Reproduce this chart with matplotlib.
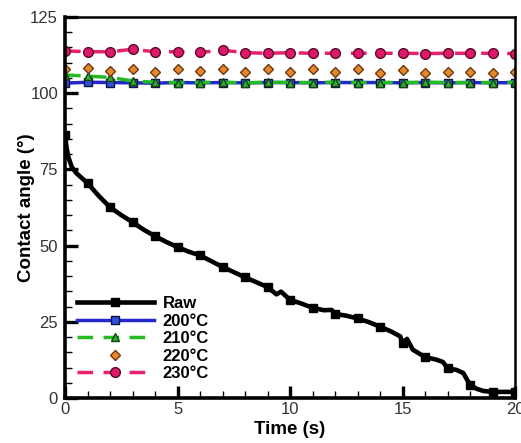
import matplotlib
matplotlib.use("Agg")
import matplotlib.pyplot as plt
import numpy as np
from matplotlib.ticker import MultipleLocator

plt.rcParams['font.family'] = ['Liberation Sans', 'DejaVu Sans']

# Raw sample: contact angle falls over time (markers every whole second)
raw_t = [0, 0.07, 0.15, 0.3, 0.5, 1, 1.5, 2, 2.5, 3, 3.5, 4, 4.5, 5, 5.5, 6,
         6.5, 7, 7.5, 8, 8.5, 9, 9.4, 9.6, 10, 10.5, 11, 11.5, 11.85, 12, 12.5,
         13, 13.5, 14, 14.5, 14.9, 15, 15.2, 15.45, 16, 16.5, 16.8, 17, 17.4,
         17.7, 18, 18.3, 18.6, 19, 19.5, 20]
raw_v = [86.3, 82, 79, 75.8, 73.8, 70.5, 66.3, 62.6, 60.0, 57.7, 55.2, 53.1,
         51.2, 49.5, 48.0, 46.8, 44.9, 43.0, 41.3, 39.6, 38.0, 36.4, 34.0,
         34.9, 32.2, 31.0, 29.6, 28.8, 28.9, 27.6, 27.0, 26.1, 24.9, 23.4, 21.8,
         20.2, 18.0, 19.4, 15.9, 13.4, 12.6, 11.8, 9.8, 9.2, 8.2, 4.3, 3.0,
         2.3, 2.0, 2.0, 2.0]

t_sec = np.arange(0, 21)
v200 = [103.3, 103.6, 103.5, 103.4, 103.3, 103.5, 103.4, 103.5, 103.4, 103.5,
        103.5, 103.4, 103.5, 103.5, 103.5, 103.4, 103.5, 103.4, 103.5, 103.4, 103.5]
v210 = [106.0, 105.6, 105.2, 104.0, 103.6, 103.5, 103.5, 103.6, 103.4, 103.6,
        103.5, 103.5, 103.6, 103.5, 103.5, 103.5, 103.6, 103.5, 103.5, 103.5, 103.6]
v220 = [108.1, 108.4, 107.3, 108.1, 107.0, 107.8, 107.3, 107.8, 107.0, 107.8,
        106.8, 107.8, 106.8, 107.9, 106.5, 107.6, 106.5, 106.8, 106.8, 106.5, 107.0]
v230 = [113.9, 113.6, 113.6, 114.4, 113.6, 113.6, 113.4, 114.1, 113.3, 113.1,
        113.3, 113.1, 113.1, 113.1, 113.1, 113.1, 113.0, 113.1, 113.1, 113.1, 113.0]

fig = plt.figure(figsize=(5.21, 4.43), dpi=100)
ax = fig.add_axes([0.1248, 0.1016, 0.8637, 0.86])

raw_t = np.array(raw_t)
marks = np.where(np.isclose(raw_t % 1, 0))[0].tolist()
ax.plot(raw_t, raw_v, color='black', lw=3.3, marker='s', ms=5.5,
        markevery=marks, label='Raw', zorder=3)
ax.plot(t_sec, v200, color='#2228cc', lw=2.5, marker='s', ms=5.5,
        mfc='#3050dd', mec='#111144', label='200°C')
ax.plot(t_sec, v210, color='#22bb22', lw=2.5, ls=(0, (4.5, 3)), marker='^', ms=6,
        mfc='#33aa33', mec='#114411', label='210°C')
ax.plot(t_sec, v220, ls='none', marker='D', ms=5.5,
        mfc='#e8872a', mec='#6b3a10', label='220°C')
ax.plot(t_sec, v230, color='#e8206e', lw=2.5, ls=(0, (4.5, 3)), marker='o', ms=7,
        mfc='#e0186a', mec='#5a0a2a', label='230°C')

ax.set_xlim(0, 20)
ax.set_ylim(0, 125)
ax.xaxis.set_major_locator(MultipleLocator(5))
ax.xaxis.set_minor_locator(MultipleLocator(1))
ax.yaxis.set_major_locator(MultipleLocator(25))
ax.yaxis.set_minor_locator(MultipleLocator(5))
ax.tick_params(which='major', direction='in', length=9, width=2.4,
               labelsize=12, labelcolor='#333333', pad=3)
ax.tick_params(axis='y', which='major', pad=5)
ax.tick_params(which='minor', direction='in', length=5, width=1)
for side in ['left', 'bottom']:
    ax.spines[side].set_linewidth(2.6)
for side in ['top', 'right']:
    ax.spines[side].set_linewidth(1.8)

ax.set_xlabel('Time (s)', fontsize=13.5, fontweight='bold', labelpad=3)
ax.set_ylabel('Contact angle (°)', fontsize=13.5, fontweight='bold')
ax.yaxis.set_label_coords(-0.066, 0.5)

leg = ax.legend(loc='lower left', bbox_to_anchor=(0.008, 0.022), frameon=False,
                borderpad=0, handlelength=4.6, handletextpad=0.55,
                labelspacing=0.15, prop={'weight': 'bold', 'size': 12})

fig.savefig('out.png', dpi=100)
